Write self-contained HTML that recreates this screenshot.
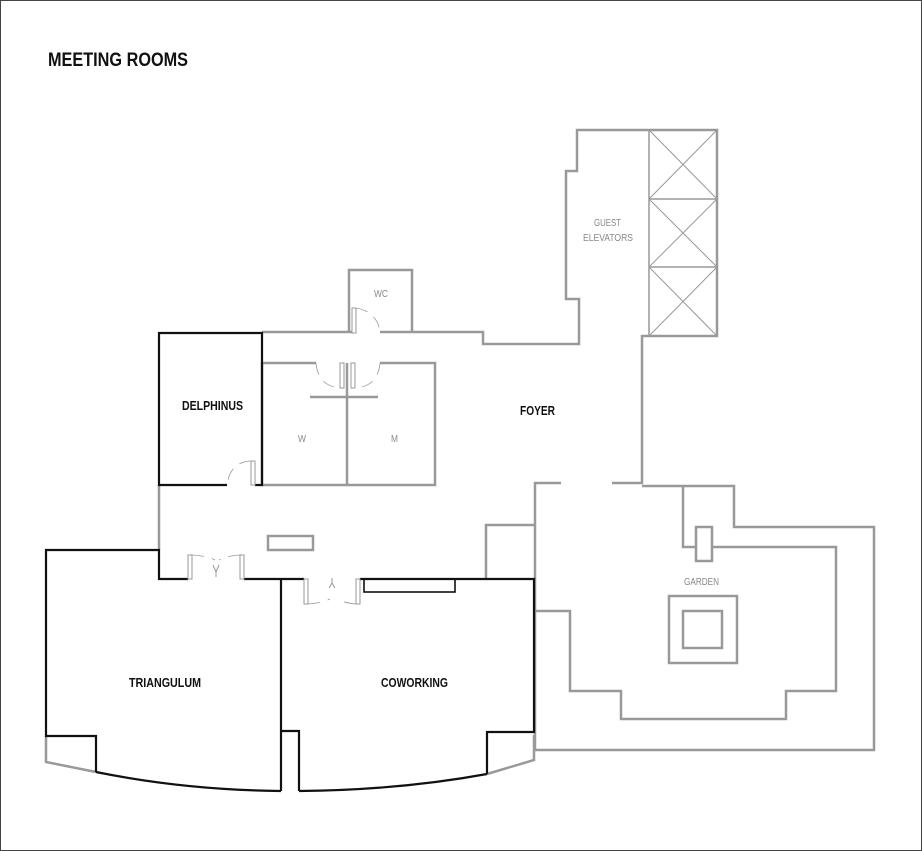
<!DOCTYPE html>
<html><head><meta charset="utf-8"><style>
html,body{margin:0;padding:0;background:#fff}
svg{display:block}
text{font-family:"Liberation Sans Narrow","Liberation Sans",sans-serif}
</style></head><body>
<svg width="922" height="851" viewBox="0 0 922 851" xmlns="http://www.w3.org/2000/svg">
<rect x="0.5" y="0.5" width="921" height="850" fill="#fff" stroke="#444" stroke-width="1"/>
<text x="48" y="66" font-size="19" font-weight="bold" fill="#111" textLength="140" lengthAdjust="spacingAndGlyphs">MEETING ROOMS</text>

<g fill="none" stroke="#999" stroke-width="2.5">
<polyline points="349,333 349,270 412,270 412,331"/>
<line x1="262" y1="332" x2="352" y2="332"/>
<polyline points="380,332 483,332 483,344 579,344 579,299 566,299 566,171 577,171 577,130 717,130 717,336 642,336 642,483 612,483"/>
<rect x="649" y="130" width="68" height="206" stroke-width="1.5"/>
<line x1="649" y1="199" x2="717" y2="199" stroke-width="1.5"/>
<line x1="649" y1="267" x2="717" y2="267" stroke-width="1.5"/>
<g stroke-width="1">
<line x1="649" y1="130" x2="717" y2="199"/><line x1="717" y1="130" x2="649" y2="199"/>
<line x1="649" y1="199" x2="717" y2="267"/><line x1="717" y1="199" x2="649" y2="267"/>
<line x1="649" y1="267" x2="717" y2="336"/><line x1="717" y1="267" x2="649" y2="336"/>
</g>
<polyline points="316,363 262,363 262,485 435,485 435,363 380,363"/>
<line x1="347" y1="363" x2="347" y2="485"/>
<line x1="310" y1="397" x2="378" y2="397"/>
<line x1="159" y1="485" x2="159" y2="550"/>
<rect x="268" y="536" width="45" height="14"/>
<polyline points="561,483 535,483 535,750"/>
<polyline points="486,578 486,525 535,525"/>
<polyline points="535,611 570,611 570,691 621,691 621,719 786,719 786,691 836,691 836,547 712,547"/>
<polyline points="683,486 683,547 696,547"/>
<polyline points="642,486 734,486 734,527 874,527 874,750 535,750"/>
<rect x="696" y="527" width="16" height="34"/>
<rect x="669" y="596" width="68" height="67"/>
<rect x="683" y="611" width="39" height="37"/>
<polyline points="46,736 46,762 96,772"/>
<polyline points="534,735 534,760 487,774"/>
<line x1="281" y1="731" x2="281" y2="791" stroke-width="2"/>
</g>

<g fill="none" stroke="#111" stroke-width="2.2">
<polyline points="227,485 159,485 159,333 262,333 262,485 255,485"/>
<polyline points="188,579 159,579 159,550 46,550 46,736 96,736 96,772"/>
<path d="M96,772 Q185,790 281,791"/>
<polyline points="244,579 304,579"/>
<line x1="281" y1="579" x2="281" y2="791"/>
<polyline points="360,579 534,579 534,732 487,732 487,774"/>
<path d="M487,774 Q400,790 299,791"/>
<polyline points="281,731 299,731 299,791"/>
<rect x="364" y="579" width="91" height="13" stroke-width="1.6"/>
</g>

<g fill="#fff" stroke="#999" stroke-width="1">
<rect x="352" y="308" width="4" height="25"/>
<rect x="340" y="363" width="4" height="25"/>
<rect x="351" y="363" width="4" height="25"/>
<rect x="251" y="461" width="4" height="24"/>
<rect x="188" y="555" width="4" height="24"/>
<rect x="240" y="555" width="4" height="24"/>
<rect x="304" y="579" width="4" height="25"/>
<rect x="356" y="579" width="4" height="25"/>
</g>
<g fill="none" stroke="#999" stroke-width="0.8" stroke-dasharray="12,8">
<path d="M356,308 Q378,312 380,333"/>
<path d="M316,363 Q318,386 340,388"/>
<path d="M380,363 Q378,386 356,388"/>
<path d="M251,461 Q230,462 227,485"/>
<path d="M192,555 Q208,556 215,560"/>
<path d="M240,555 Q226,556 219,560"/>
<path d="M308,604 Q322,603 330,599"/>
<path d="M356,604 Q344,603 337,599"/>
</g>
<g stroke="#999" stroke-width="1" fill="none">
<polyline points="213,565 216,572 219,565"/><line x1="216" y1="572" x2="216" y2="577"/>
<polyline points="329,588 332,583 335,588"/><line x1="332" y1="583" x2="332" y2="578"/>
</g>

<g font-size="13" font-weight="bold" fill="#111" lengthAdjust="spacingAndGlyphs">
<text x="182" y="410" textLength="61" lengthAdjust="spacingAndGlyphs">DELPHINUS</text>
<text x="520" y="415" textLength="35" lengthAdjust="spacingAndGlyphs">FOYER</text>
<text x="129" y="687" textLength="72" lengthAdjust="spacingAndGlyphs">TRIANGULUM</text>
<text x="381" y="687" textLength="67" lengthAdjust="spacingAndGlyphs">COWORKING</text>
</g>
<g font-size="10" fill="#888">
<text x="374" y="297" textLength="14" lengthAdjust="spacingAndGlyphs">WC</text>
<text x="298" y="442" textLength="8" lengthAdjust="spacingAndGlyphs">W</text>
<text x="391" y="442" textLength="7" lengthAdjust="spacingAndGlyphs">M</text>
<text x="594" y="226" textLength="27" lengthAdjust="spacingAndGlyphs">GUEST</text>
<text x="583" y="241" textLength="50" lengthAdjust="spacingAndGlyphs">ELEVATORS</text>
<text x="684" y="585" textLength="35" lengthAdjust="spacingAndGlyphs">GARDEN</text>
</g>
</svg>
</body></html>
